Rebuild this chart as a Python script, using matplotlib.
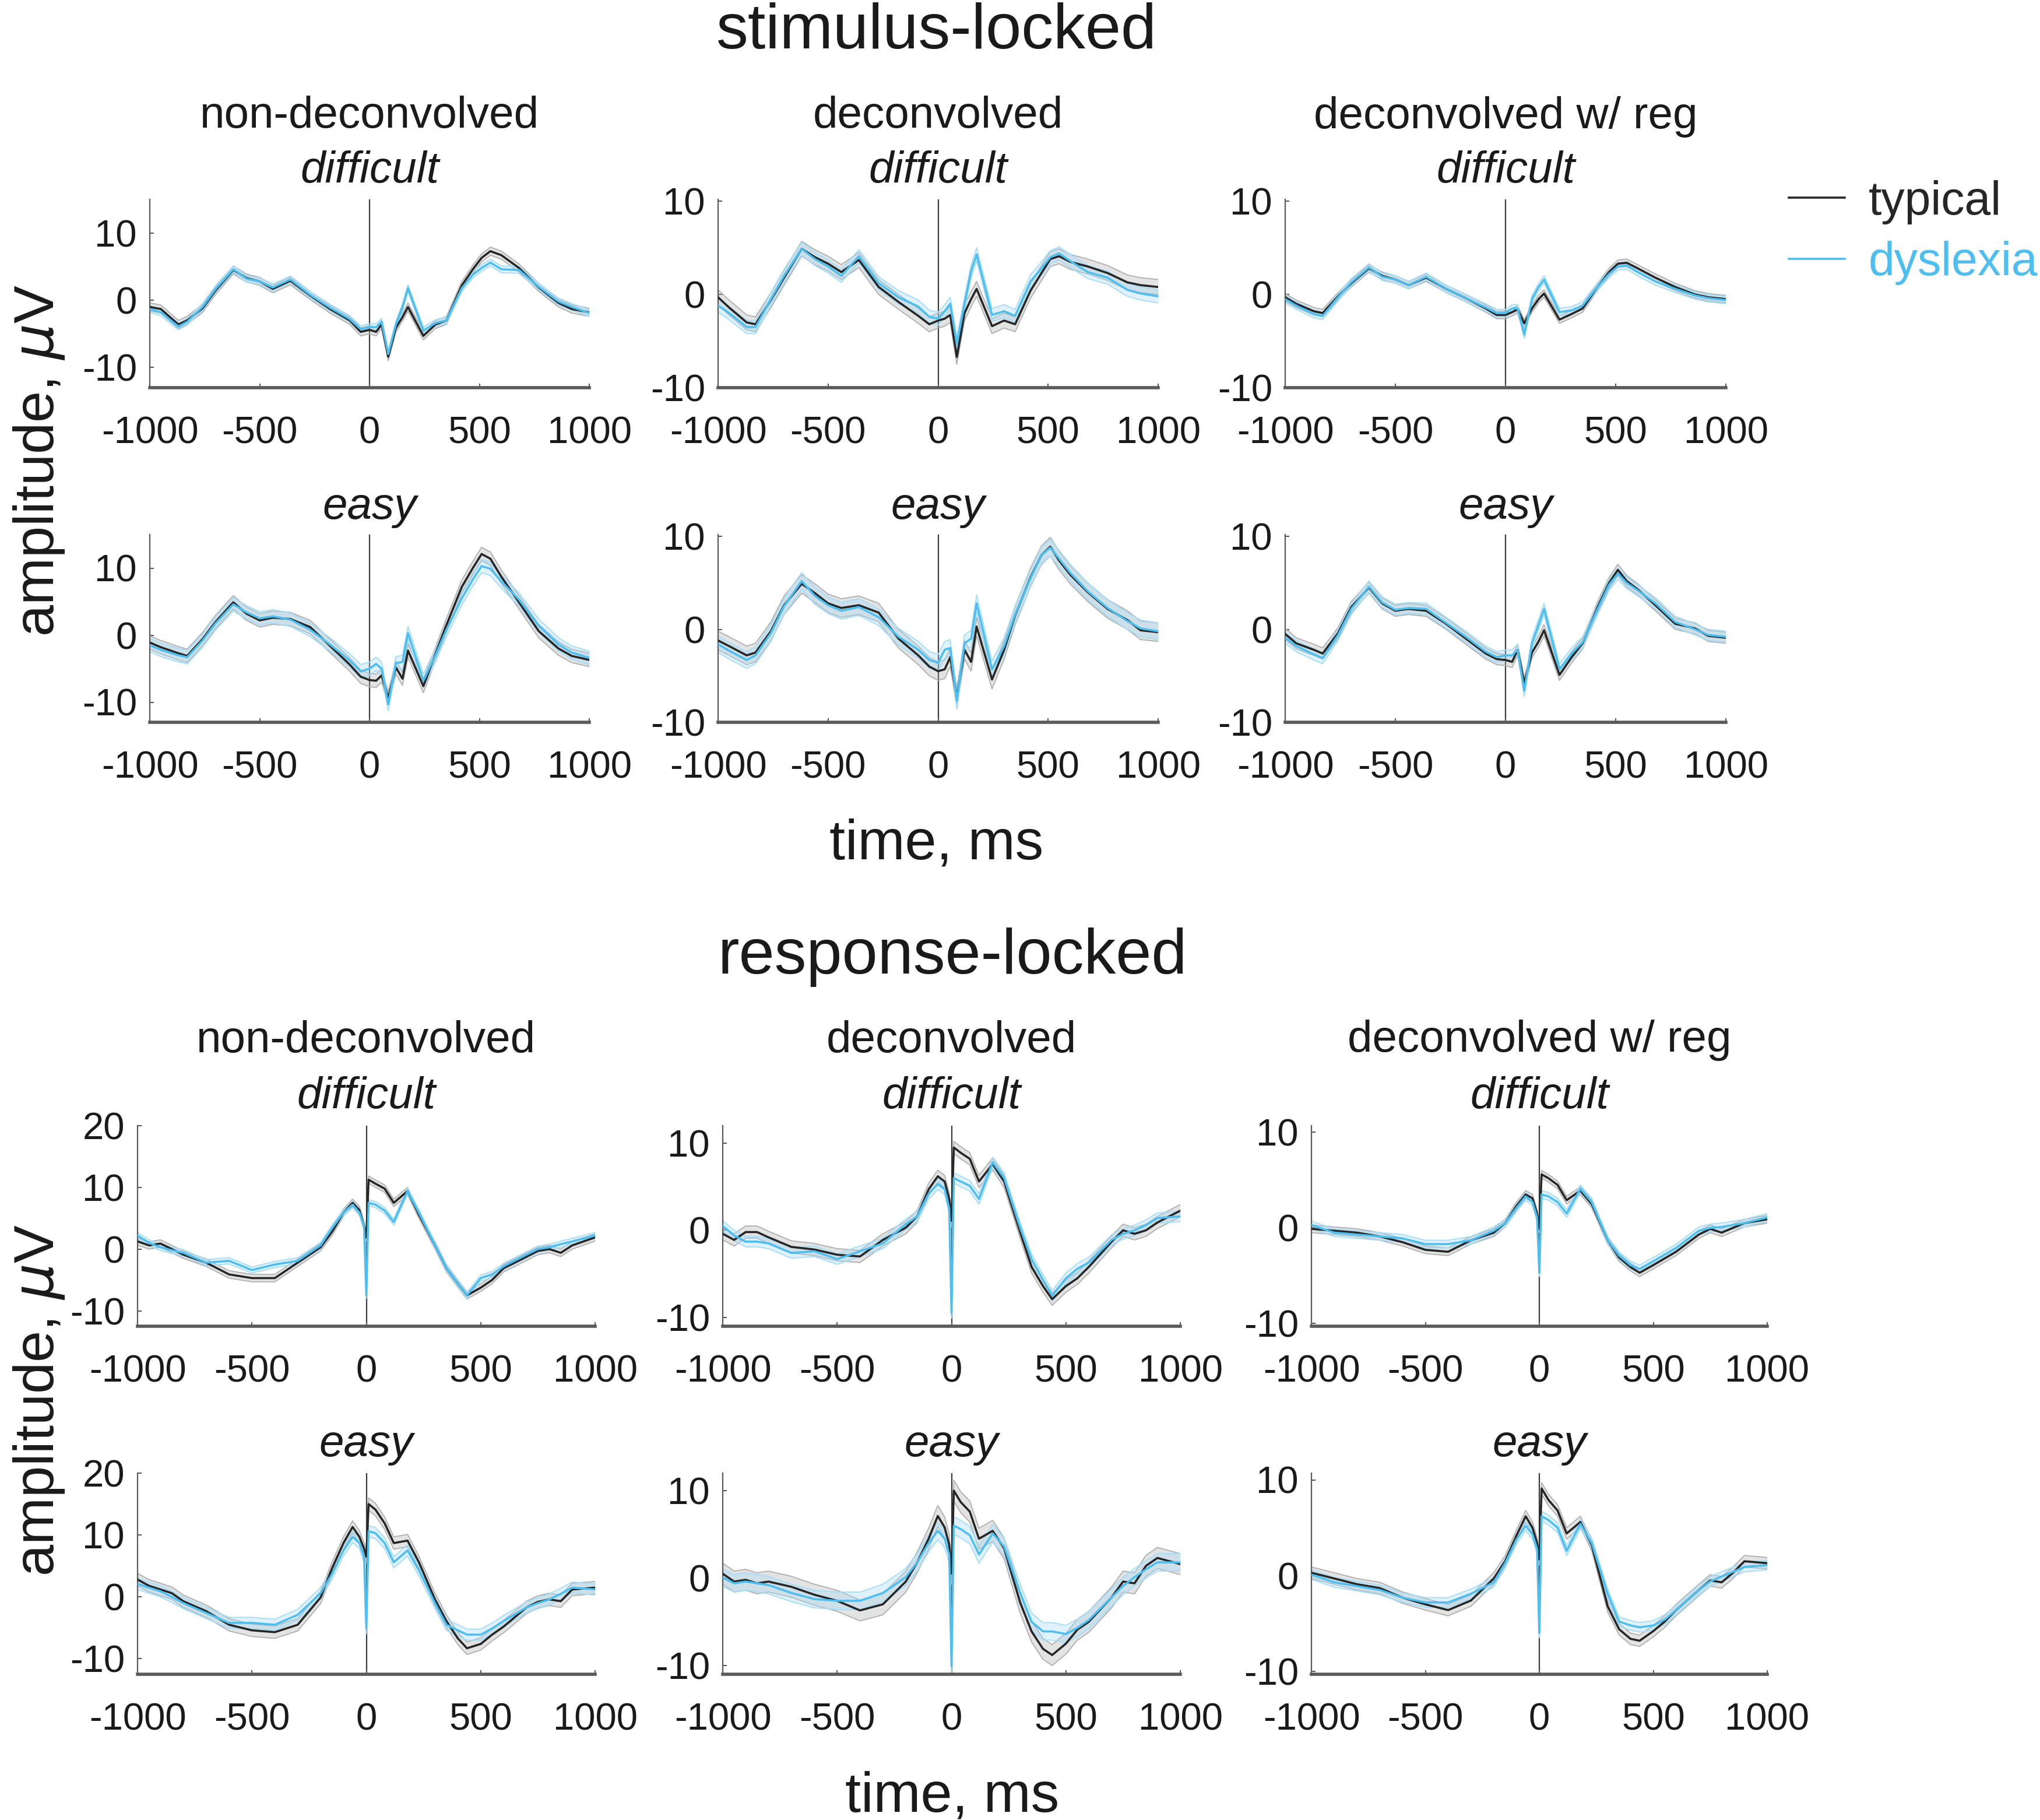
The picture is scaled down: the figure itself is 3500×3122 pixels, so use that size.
import numpy as np
import matplotlib
matplotlib.use("Agg")
import matplotlib.pyplot as plt
from matplotlib.lines import Line2D

plt.rcParams["font.family"] = ["Liberation Sans", "DejaVu Sans"]
plt.rcParams["mathtext.fontset"] = "dejavusans"
plt.rcParams["axes.unicode_minus"] = False

# ── colours ──────────────────────────────────────────────────────────────────
_TYP      = "#262626"
_DYS      = "#4DBEEE"
_TYP_BAND = "#b0b0b0"
_DYS_BAND = "#a6dcf6"
_AXIS     = "#5a5a5a"

# ── stimulus-locked ERPs (µV) ────────────────────────────────────────────────
T_STIM = [-1000, -950, -870, -830, -760, -700, -620, -560, -500, -440, -360,
          -270, -180, -90, -40, 0, 30, 55, 85, 120, 150, 175, 245, 300, 350,
          420, 470, 510, 550, 600, 680, 770, 860, 920, 1000]

S0D_TYP = [-1.0, -1.3, -3.6, -3.0, -1.2, 1.5, 4.5, 3.3, 2.8, 1.7, 2.9, 0.7, -1.3,
           -3.0, -4.7, -4.4, -4.7, -3.6, -8.4, -4.1, -2.5, -1.0, -5.3, -3.6,
           -3.0, 2.2, 4.6, 6.3, 7.3, 6.7, 4.8, 1.9, -0.4, -1.3, -1.8]
S0D_DYS = [-1.3, -1.8, -3.9, -3.2, -1.0, 1.7, 4.6, 3.2, 2.8, 1.9, 3.1, 0.8, -1.1,
           -2.8, -4.3, -4.0, -4.0, -3.2, -8.0, -3.6, -1.0, 1.8, -4.5, -3.4,
           -3.0, 1.8, 3.8, 4.8, 5.6, 4.6, 4.5, 2.0, -0.2, -1.0, -1.9]
S1D_TYP = [-0.3, -1.4, -3.0, -3.2, -0.6, 1.8, 4.9, 4.0, 3.3, 2.4, 3.7, 0.8, -0.8,
           -2.3, -3.2, -2.8, -2.6, -2.2, -6.7, -2.0, -0.5, 0.6, -3.4, -2.8,
           -3.2, 0.4, 2.3, 3.8, 4.1, 3.5, 3.0, 2.3, 1.3, 1.0, 0.8]
S1D_DYS = [-1.2, -2.0, -3.5, -3.5, -0.5, 2.0, 4.9, 3.8, 3.0, 2.0, 4.1, 1.2, -0.3,
           -1.3, -2.4, -2.6, -1.8, -1.0, -5.3, -1.0, 2.5, 4.3, -2.2, -1.8,
           -2.3, 1.4, 2.8, 4.0, 4.4, 3.6, 2.4, 1.8, 0.5, 0.1, -0.2]
S2D_TYP = [-0.3, -1.0, -1.8, -2.0, -0.2, 1.2, 2.8, 2.0, 1.6, 1.0, 1.8, 0.6, -0.4,
           -1.5, -2.2, -2.2, -1.9, -1.6, -3.1, -1.5, -0.5, 0.1, -2.7, -2.1,
           -1.5, 0.9, 2.4, 3.3, 3.4, 2.8, 1.8, 0.8, 0.0, -0.3, -0.5]
S2D_DYS = [-0.5, -1.2, -2.1, -2.3, -0.3, 1.3, 2.9, 1.9, 1.6, 1.0, 1.9, 0.6, -0.4,
           -1.4, -2.0, -2.0, -1.5, -1.5, -4.3, -0.5, 0.8, 1.6, -1.9, -1.7,
           -1.2, 0.9, 2.2, 3.0, 3.1, 2.4, 1.4, 0.6, -0.1, -0.4, -0.6]
S0E_TYP = [-1.1, -1.8, -2.7, -3.1, -0.6, 2.0, 4.9, 3.2, 2.2, 2.6, 2.4, 1.2, -1.6,
           -4.4, -6.2, -6.7, -6.8, -6.0, -9.4, -4.8, -6.5, -2.3, -7.6, -2.8,
           1.5, 7.2, 10.0, 12.1, 11.4, 8.7, 4.9, 0.6, -2.0, -3.1, -3.7]
S0E_DYS = [-1.5, -2.2, -3.0, -3.3, -0.8, 1.8, 4.6, 3.4, 2.5, 2.8, 2.3, 0.8, -1.4,
           -3.8, -5.4, -5.0, -4.3, -5.0, -10.3, -4.2, -4.0, 0.3, -6.8, -3.0,
           0.8, 5.5, 8.3, 10.3, 9.9, 8.0, 5.3, 1.4, -1.4, -2.6, -3.4]
S1E_TYP = [-1.2, -1.8, -2.8, -2.5, -0.2, 2.6, 4.9, 3.9, 2.8, 2.3, 2.6, 1.8, -1.0,
           -2.8, -4.0, -4.5, -4.3, -3.0, -7.3, -2.2, -3.5, 0.3, -5.4, -2.2,
           1.5, 5.6, 8.0, 8.9, 7.4, 5.9, 4.0, 2.2, 1.0, -0.1, -0.3]
S1E_DYS = [-1.6, -2.3, -3.3, -2.8, -0.4, 2.5, 5.2, 3.6, 2.6, 2.0, 2.4, 1.3, -0.8,
           -2.2, -3.3, -3.6, -2.2, -2.0, -7.7, -1.5, -1.0, 2.8, -4.3, -1.8,
           1.6, 5.5, 8.0, 8.8, 7.6, 6.1, 4.1, 2.3, 0.9, 0.1, -0.2]
S2E_TYP = [-0.5, -1.5, -2.2, -2.6, -0.4, 2.4, 4.5, 2.8, 2.0, 2.2, 2.0, 0.6, -1.0,
           -2.6, -3.2, -3.3, -3.5, -2.2, -5.8, -2.5, -1.3, -0.1, -4.9, -3.0,
           -1.5, 2.5, 5.0, 6.4, 5.2, 4.3, 2.6, 0.6, 0.1, -0.7, -0.9]
S2E_DYS = [-0.9, -1.8, -2.7, -3.1, -0.6, 2.2, 4.6, 2.9, 2.1, 2.3, 2.2, 0.7, -0.8,
           -2.4, -3.0, -2.8, -2.8, -2.2, -6.6, -1.5, 0.5, 2.2, -4.3, -2.6,
           -1.4, 2.3, 4.8, 6.0, 5.0, 4.2, 2.8, 0.8, 0.0, -0.6, -0.8]

# ── response-locked ERPs (µV) ────────────────────────────────────────────────
T_RESP = [-1000, -950, -900, -850, -800, -700, -600, -500, -400, -300, -200,
          -150, -100, -60, -30, -10, 0, 10, 40, 80, 120, 180, 230, 300, 350,
          400, 440, 500, 550, 600, 700, 750, 800, 850, 900, 1000]

R0D_TYP = [1.25, 0.6, 0.9, 0.0, -0.9, -2.2, -4.1, -4.7, -4.7, -2.2, 0.3, 2.8,
           5.9, 7.5, 6.3, 3.75, 1.9, 11.25, 10.6, 9.8, 7.5, 9.4, 5.6, 0.6,
           -3.1, -5.6, -7.5, -6.25, -5.0, -3.1, -1.25, -0.3, 0.0, -0.6, 0.6, 1.9]
R0D_DYS = [2.2, 1.0, 0.3, -0.2, -0.6, -2.2, -1.9, -3.4, -2.5, -1.9, 0.6, 3.4,
           5.9, 7.2, 5.9, 3.75, -7.5, 7.5, 7.2, 6.25, 4.4, 9.4, 5.9, 0.6,
           -3.1, -5.6, -7.5, -4.7, -4.1, -2.8, -0.9, 0.0, 0.3, 0.8, 1.25, 2.2]
R1D_TYP = [-0.4, -1.1, -0.2, -0.2, -0.8, -1.9, -2.2, -2.8, -3.0, -1.1, 0.3, 1.6,
           4.7, 6.2, 5.6, 3.6, 1.1, 9.5, 8.9, 8.2, 5.6, 7.6, 5.6, -0.2,
           -4.2, -6.4, -7.9, -6.4, -5.5, -4.2, -1.3, 0.0, -0.4, 0.0, 0.9, 2.25]
R1D_DYS = [0.5, -0.6, -1.3, -1.3, -1.5, -2.6, -2.4, -3.3, -2.4, -1.5, 0.7, 1.6,
           4.2, 5.3, 4.7, 2.5, -9.5, 6.0, 5.6, 5.1, 3.6, 7.8, 6.0, 0.3,
           -3.3, -5.7, -7.5, -5.5, -4.4, -3.7, -1.1, -0.4, 0.0, 0.6, 1.4, 1.6]
R2D_TYP = [-0.1, -0.2, -0.3, -0.4, -0.5, -0.9, -1.5, -2.3, -2.5, -1.3, -0.5, 0.5,
           2.3, 3.5, 3.1, 1.5, -0.1, 5.6, 5.2, 4.5, 2.9, 3.9, 2.5, -1.3,
           -3.1, -4.1, -4.7, -3.9, -3.2, -2.5, -0.7, -0.1, -0.5, 0.0, 0.5, 0.9]
R2D_DYS = [0.3, -0.1, -0.5, -0.6, -0.7, -0.9, -1.1, -1.7, -1.7, -1.3, -0.3, 0.5,
           2.1, 3.3, 2.7, 1.1, -4.7, 3.5, 3.3, 2.7, 1.5, 4.1, 2.7, -1.3,
           -2.9, -3.9, -4.3, -3.5, -2.8, -2.1, -0.3, 0.0, 0.1, 0.3, 0.5, 1.1]
R0E_TYP = [2.8, 1.8, 1.2, 0.6, -0.7, -2.3, -4.5, -5.4, -5.7, -4.5, -0.1, 4.6,
           8.7, 11.3, 9.7, 7.8, 6.5, 15.0, 14.1, 11.9, 8.7, 9.1, 5.6, -0.4,
           -3.9, -6.7, -8.3, -7.6, -6.1, -4.8, -1.7, -0.8, -0.4, -0.7, 1.2, 1.5]
R0E_DYS = [2.1, 1.5, 0.9, 0.0, -1.0, -2.6, -4.2, -4.2, -4.5, -2.9, 0.6, 3.7,
           7.5, 9.7, 8.7, 6.5, -5.1, 10.6, 10.3, 8.7, 5.6, 7.5, 4.3, -1.0,
           -4.5, -5.4, -6.1, -6.1, -5.1, -3.9, -1.7, -1.0, -0.4, 0.5, 1.5, 1.2]
R1E_TYP = [0.5, -0.4, -0.2, -0.6, -0.4, -1.0, -1.9, -2.6, -3.7, -3.0, -0.4, 1.8,
           4.5, 7.1, 5.8, 3.8, 0.5, 10.0, 8.7, 7.6, 4.5, 5.4, 3.4, -2.8,
           -6.1, -8.1, -8.8, -7.5, -5.9, -5.0, -2.2, -0.4, -0.6, 1.4, 2.3, 1.6]
R1E_DYS = [0.05, -0.6, -0.4, -0.6, -0.8, -1.7, -2.4, -2.6, -2.6, -1.7, 0.1, 1.8,
           4.0, 5.4, 4.5, 2.7, -10.1, 6.0, 5.6, 4.9, 2.7, 5.1, 3.6, -1.7,
           -5.0, -6.1, -6.1, -6.4, -5.7, -4.8, -2.2, -0.9, 0.1, 1.0, 1.8, 1.8]
R2E_TYP = [0.3, 0.0, -0.3, -0.6, -0.9, -1.3, -2.3, -3.0, -3.6, -2.6, -0.3, 1.5,
           4.2, 6.2, 5.0, 3.4, 1.7, 9.1, 7.9, 6.8, 4.4, 5.6, 3.2, -3.2,
           -5.6, -6.6, -6.8, -5.8, -4.8, -3.6, -1.5, -0.5, -0.7, 0.3, 1.5, 1.3]
R2E_DYS = [0.1, -0.3, -0.7, -0.9, -1.1, -1.5, -2.3, -2.8, -2.8, -1.9, -0.7, 1.3,
           3.8, 5.2, 4.3, 2.8, -6.0, 6.2, 5.8, 5.0, 2.6, 5.4, 3.4, -1.9,
           -4.8, -5.2, -5.4, -5.2, -4.6, -3.6, -1.5, -0.6, -0.1, 0.4, 0.9, 1.1]

# standard-error half-widths (µV), one per panel: [row][col]
SE_STIM_TYP = [[0.6, 0.8, 0.4], [1.0, 1.0, 0.6]]
SE_STIM_DYS = [[0.5, 0.7, 0.4], [1.0, 0.9, 0.6]]
SE_RESP_TYP = [[0.6, 0.7, 0.4], [1.0, 1.2, 0.6]]
SE_RESP_DYS = [[0.5, 0.6, 0.4], [0.9, 1.0, 0.5]]

METHODS    = ["non-deconvolved", "deconvolved", "deconvolved w/ reg"]
CONDITIONS = ["difficult", "easy"]
X_TICKS    = [-1000, -500, 0, 500, 1000]
GROUPS     = ["typical", "dyslexia"]

# ── layout (pixels on a 3500 x 3122 canvas) ──────────────────────────────────
W, H = 3500, 3122
STIM_COLS = [(257, 1011), (1232, 1987), (2205, 2961)]
STIM_ROWS = [(342, 665), (917, 1239)]
RESP_COLS = [(236, 1021), (1240, 2025), (2250, 3032)]
RESP_ROWS = [(1931, 2275), (2527, 2872)]

STIM_YLIM = [(-13, 15), (-10, 10.2), (-10, 10.2)]
RESP_YLIM = [(-12.5, 20), (-11, 12), (-10.3, 10.7)]
RESP_YTICKS = [[-10, 0, 10, 20], [-10, 0, 10], [-10, 0, 10]]


def _px_axes(fig, x0, x1, y0, y1):
    return fig.add_axes([x0 / W, 1 - y1 / H, (x1 - x0) / W, (y1 - y0) / H])


def _style(ax, ylim, yticks):
    ax.set_xlim(-1000, 1000)
    ax.set_ylim(*ylim)
    ax.set_xticks(X_TICKS)
    ax.set_yticks(yticks)
    for side in ("top", "right"):
        ax.spines[side].set_visible(False)
    ax.spines["left"].set_color(_AXIS)
    ax.spines["left"].set_linewidth(1.6)
    ax.spines["bottom"].set_color(_AXIS)
    ax.spines["bottom"].set_linewidth(4.0)
    ax.tick_params(direction="in", length=5, width=1.5, colors=_AXIS,
                   labelcolor="#1a1a1a", labelsize=47)
    ax.tick_params(axis="x", pad=35)
    ax.tick_params(axis="y", pad=16)
    ax.axvline(0, color="#3a3a3a", lw=1.6, zorder=1)


def _trace(ax, t, y, se, col, band):
    t = np.asarray(t, float)
    y = np.asarray(y, float)
    ax.fill_between(t, y - se, y + se, color=band, alpha=0.35, lw=0, zorder=2)
    ax.plot(t, y - se, color=band, lw=1.3, zorder=2)
    ax.plot(t, y + se, color=band, lw=1.3, zorder=2)
    ax.plot(t, y, color=col, lw=2.6, zorder=3)


fig = plt.figure(figsize=(W / 100, H / 100), dpi=100)

stim = [[(S0D_TYP, S0D_DYS), (S1D_TYP, S1D_DYS), (S2D_TYP, S2D_DYS)],
        [(S0E_TYP, S0E_DYS), (S1E_TYP, S1E_DYS), (S2E_TYP, S2E_DYS)]]
resp = [[(R0D_TYP, R0D_DYS), (R1D_TYP, R1D_DYS), (R2D_TYP, R2D_DYS)],
        [(R0E_TYP, R0E_DYS), (R1E_TYP, R1E_DYS), (R2E_TYP, R2E_DYS)]]

# ── stimulus-locked block ────────────────────────────────────────────────────
for r, (y0, y1) in enumerate(STIM_ROWS):
    for c, (x0, x1) in enumerate(STIM_COLS):
        ax = _px_axes(fig, x0, x1, y0, y1)
        _style(ax, STIM_YLIM[c], [-10, 0, 10])
        typ, dys = stim[r][c]
        _trace(ax, T_STIM, typ, SE_STIM_TYP[r][c], _TYP, _TYP_BAND)
        _trace(ax, T_STIM, dys, SE_STIM_DYS[r][c], _DYS, _DYS_BAND)

# ── response-locked block ────────────────────────────────────────────────────
for r, (y0, y1) in enumerate(RESP_ROWS):
    for c, (x0, x1) in enumerate(RESP_COLS):
        ax = _px_axes(fig, x0, x1, y0, y1)
        _style(ax, RESP_YLIM[c], RESP_YTICKS[c])
        typ, dys = resp[r][c]
        _trace(ax, T_RESP, typ, SE_RESP_TYP[r][c], _TYP, _TYP_BAND)
        _trace(ax, T_RESP, dys, SE_RESP_DYS[r][c], _DYS, _DYS_BAND)


# ── text ─────────────────────────────────────────────────────────────────────
def _txt(x, y, s, size, **kw):
    fig.text(x / W, 1 - y / H, s, fontsize=size, ha="center", va="center",
             color="#1a1a1a", **kw)


_txt(1607, 55, "stimulus-locked", 79)
_txt(1634, 1642, "response-locked", 79)
for i, (x0, x1) in enumerate(STIM_COLS):
    xc = (x0 + x1) / 2
    _txt(xc, 200, METHODS[i], 55)
    _txt(xc, 294, CONDITIONS[0], 55, style="italic")
    _txt(xc, 870, CONDITIONS[1], 55, style="italic")
for i, (x0, x1) in enumerate(RESP_COLS):
    xc = (x0 + x1) / 2
    _txt(xc, 1785, METHODS[i], 55)
    _txt(xc, 1881, CONDITIONS[0], 55, style="italic")
    _txt(xc, 2479, CONDITIONS[1], 55, style="italic")
_txt(1607, 1448, "time, ms", 70)
_txt(1634, 3082, "time, ms", 70)
_txt(67, 790, r"amplitude, $\mu$V", 70, rotation=90)
_txt(67, 2402, r"amplitude, $\mu$V", 70, rotation=90)

handles = [Line2D([], [], color=_TYP, lw=2.6), Line2D([], [], color=_DYS, lw=2.6)]
fig.legend(handles, GROUPS, loc="upper left", bbox_to_anchor=(2996 / W, 1 - 236 / H),
           frameon=False, fontsize=58, handlelength=1.2, handletextpad=0.5,
           labelspacing=0.35, labelcolor=[_TYP, _DYS])

fig.savefig("out.png", dpi=100, facecolor="white")
